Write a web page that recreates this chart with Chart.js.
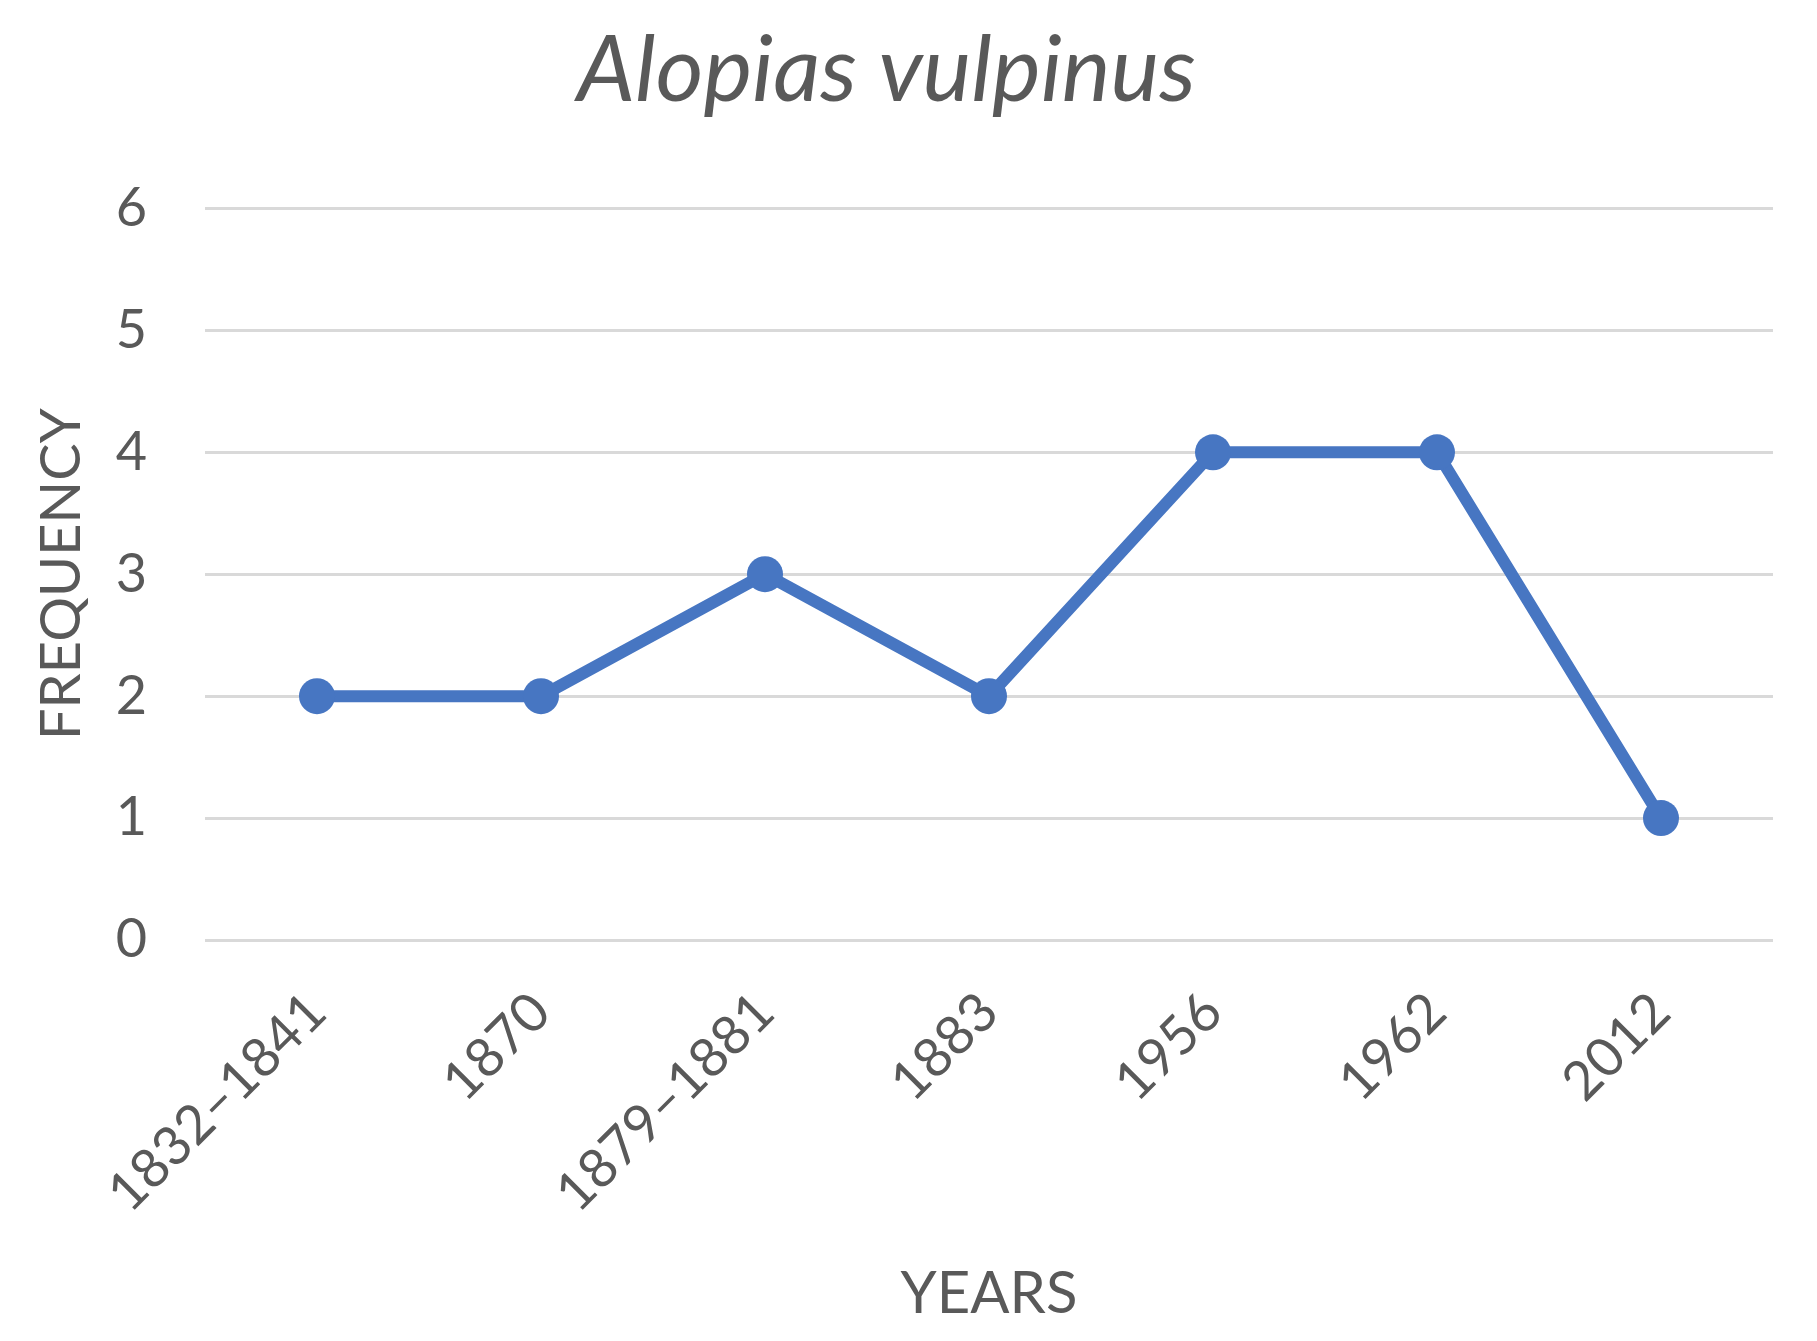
<!DOCTYPE html>
<html>
<head>
<meta charset="utf-8">
<script src="https://cdn.jsdelivr.net/npm/chart.js@4/dist/chart.umd.min.js"></script>
<style>
  html, body { margin: 0; padding: 0; background: #fff; }
  #wrap { width: 1817px; height: 1341px; }
</style>
</head>
<body>
<div id="wrap"><canvas id="chart" width="1817" height="1341"></canvas></div>
<script>
const years = ['1832–1841', '1870', '1879–1881', '1883', '1956', '1962', '2012'];
const frequency = [2, 2, 3, 2, 4, 4, 1];
const yTicks = [0, 1, 2, 3, 4, 5, 6];

const TEXT = '#595959';
const BLUE = '#4776c2';
const FONT = 'Lato, "Open Sans", sans-serif';

new Chart(document.getElementById('chart'), {
  type: 'line',
  data: {
    labels: years,
    datasets: [
      {
        label: 'Frequency',
        data: frequency,
        borderColor: BLUE,
        backgroundColor: BLUE,
        borderWidth: 12,
        pointRadius: 18,
        pointBorderWidth: 0,
        tension: 0,
        fill: false
      }
    ]
  },
  options: {
    responsive: false,
    animation: false,
    layout: { padding: { top: 0, right: 44, bottom: 0, left: 0 } },
    plugins: {
      legend: { display: false },
      tooltip: { enabled: false },
      title: {
        display: true,
        text: 'Alopias vulpinus',
        color: TEXT,
        font: { family: FONT, size: 92, style: 'italic', weight: 'normal', lineHeight: 1.2 },
        padding: { top: 16, bottom: 82 }
      }
    },
    scales: {
      x: {
        offset: true,
        grid: { display: false, drawTicks: false },
        border: { display: false },
        ticks: {
          color: TEXT,
          font: { family: FONT, size: 54 },
          minRotation: 45,
          maxRotation: 45,
          padding: 40
        },
        title: {
          display: true,
          text: 'YEARS',
          color: TEXT,
          font: { family: FONT, size: 58 },
          padding: { top: 0, bottom: 12 }
        },
        afterFit: (scale) => { scale.height = 401; }
      },
      y: {
        min: 0,
        max: 6,
        afterBuildTicks: (scale) => { scale.ticks = yTicks.map((v) => ({ value: v })); },
        grid: { color: '#d9d9d9', lineWidth: 3, drawTicks: false },
        border: { display: false },
        ticks: {
          color: TEXT,
          font: { family: FONT, size: 54 },
          padding: 58
        },
        title: {
          display: true,
          text: 'FREQUENCY',
          color: TEXT,
          font: { family: FONT, size: 56 },
          padding: { top: 28, bottom: 0 }
        },
        afterFit: (scale) => { scale.width = 205; }
      }
    }
  }
});
</script>
</body>
</html>
